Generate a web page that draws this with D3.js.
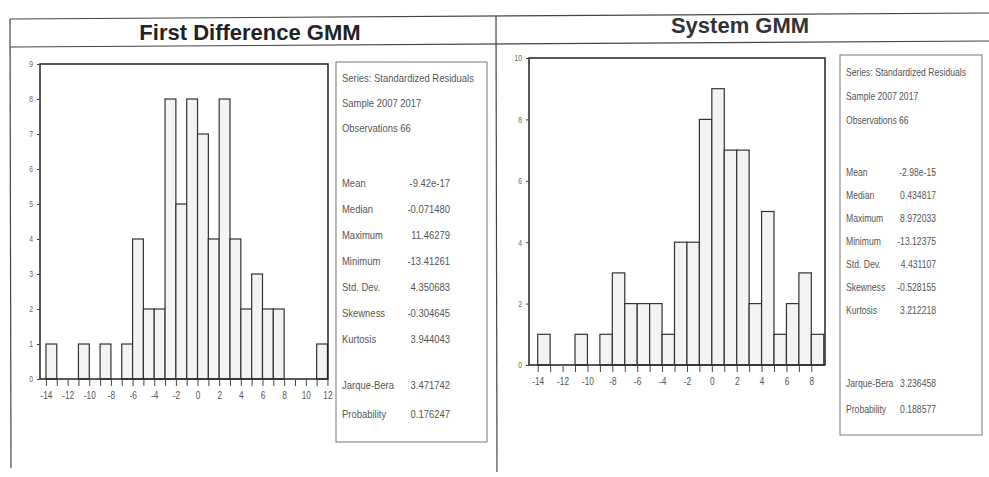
<!DOCTYPE html>
<html><head><meta charset="utf-8">
<script src="https://cdn.jsdelivr.net/npm/d3@7/dist/d3.min.js"></script>
<style>
body{margin:0;background:#fff}
.small{font-family:"Liberation Sans",Arial,sans-serif;fill:#555}
</style>
</head><body>
<svg id="c" width="989" height="477"></svg>
<script>
// ---- data ----
const titles = ["First Difference GMM", "System GMM"];
const fdBinStarts = [-14,-13,-12,-11,-10,-9,-8,-7,-6,-5,-4,-3,-2,-1,0,1,2,3,4,5,6,7,8,9,10,11];
const fdCounts    = [  1,  0,  0,  1,  0, 1, 0, 1, 4, 2, 2, 8, 5, 8,7,4,8,4,2,3,2,2,0,0,0,1];
const sysBinStarts = [-14,-13,-12,-11,-10,-9,-8,-7,-6,-5,-4,-3,-2,-1,0,1,2,3,4,5,6,7,8];
const sysCounts    = [  1,  0,  0,  1,  0, 1, 3, 2, 2, 2, 1, 4, 4, 8,9,7,7,2,5,1,2,3,1];
const fdXTicks = [-14,-12,-10,-8,-6,-4,-2,0,2,4,6,8,10,12];
const sysXTicks = [-14,-12,-10,-8,-6,-4,-2,0,2,4,6,8];
const fdYTicks = [0,1,2,3,4,5,6,7,8,9];
const sysYTicks = [0,2,4,6,8,10];
const headerLines = ["Series: Standardized Residuals", "Sample 2007 2017", "Observations 66"];
const statLabels = ["Mean","Median","Maximum","Minimum","Std. Dev.","Skewness","Kurtosis"];
const testLabels = ["Jarque-Bera","Probability"];
const fdStats  = ["-9.42e-17","-0.071480","11.46279","-13.41261","4.350683","-0.304645","3.944043"];
const fdTests  = ["3.471742","0.176247"];
const sysStats = ["-2.98e-15","0.434817","8.972033","-13.12375","4.431107","-0.528155","3.212218"];
const sysTests = ["3.236458","0.188577"];

const svg = d3.select("#c");
const g = svg.append("g");

// squeeze axis text horizontally to mimic a condensed face
function condense(sel, f){
  sel.each(function(){
    const w = this.getComputedTextLength();
    if (w > 0) d3.select(this).attr("textLength", w*f).attr("lengthAdjust","spacingAndGlyphs");
  });
}
// condensed text placed with a transform (keeps the real box right)
function ctext(parent, x, y, str, fs, f, anchor){
  return parent.append("text").attr("class","small").attr("font-size",fs)
    .attr("text-anchor", anchor || "start")
    .attr("transform", `translate(${x},${y}) scale(${f},1)`).text(str);
}

// page frame lines
const lineStyle = s => s.attr("stroke","#444").attr("stroke-width",1.2);
g.append("line").attr("x1",10).attr("y1",19).attr("x2",989).attr("y2",13).call(lineStyle);
g.append("line").attr("x1",10).attr("y1",47).attr("x2",989).attr("y2",41).call(lineStyle);
g.append("line").attr("x1",10).attr("y1",19).attr("x2",11).attr("y2",468).call(lineStyle);
g.append("line").attr("x1",496).attr("y1",16).attr("x2",497).attr("y2",472).call(lineStyle);

g.append("text").attr("x",250).attr("y",40).attr("text-anchor","middle")
  .attr("font-family","Liberation Sans, Arial, sans-serif").attr("font-weight","bold")
  .attr("font-size",22).attr("fill","#222").text(titles[0]);
g.append("text").attr("x",740).attr("y",33).attr("text-anchor","middle")
  .attr("font-family","Liberation Sans, Arial, sans-serif").attr("font-weight","bold")
  .attr("font-size",22).attr("fill","#333").text(titles[1]);

function drawHist(cfg){
  const xs = d3.scaleLinear().domain(cfg.xDomain).range([cfg.x0, cfg.x1]);
  const ys = d3.scaleLinear().domain([0, cfg.yMax]).range([cfg.yb, cfg.yt]);
  const hg = g.append("g");
  const data = cfg.starts.map((s,i)=>({s, c: cfg.counts[i]})).filter(d=>d.c>0);
  hg.selectAll("rect.bar").data(data).join("rect").attr("class","bar")
    .attr("x", d=>xs(d.s)).attr("width", d=>xs(d.s+1)-xs(d.s))
    .attr("y", d=>ys(d.c)).attr("height", d=>ys(0)-ys(d.c))
    .attr("fill","#f3f3f3").attr("stroke","#333").attr("stroke-width",1.2);
  hg.append("rect").attr("x",cfg.x0).attr("y",cfg.yt).attr("width",cfg.x1-cfg.x0).attr("height",cfg.yb-cfg.yt)
    .attr("fill","none").attr("stroke","#222").attr("stroke-width",1.5);
  const minorTicks = d3.range(cfg.xTicks[0], cfg.xTicks[cfg.xTicks.length-1]+1);
  const xa = hg.append("g").attr("transform",`translate(0,${cfg.yb})`)
    .call(d3.axisBottom(xs).tickValues(minorTicks).tickSize(7).tickPadding(5)
      .tickFormat(d => cfg.xTicks.includes(d) ? String(d) : ""));
  xa.select(".domain").remove();
  xa.selectAll("line").attr("stroke","#444");
  xa.selectAll("text").attr("class","small").attr("font-family",null).attr("font-size",11).style("fill","#555")
    .call(condense, 0.75);
  const ya = hg.append("g").attr("transform",`translate(${cfg.x0},0)`)
    .call(d3.axisLeft(ys).tickValues(cfg.yTicks).tickSize(3).tickPadding(4).tickFormat(d=>String(d)));
  ya.select(".domain").remove();
  ya.selectAll("line").attr("stroke","#444");
  ya.selectAll("text").attr("class","small").attr("font-family",null).attr("font-size",9).style("fill","#666")
    .call(condense, 0.75);
}

function drawStats(cfg){
  const sg = g.append("g");
  sg.append("rect").attr("x",cfg.x).attr("y",cfg.y).attr("width",cfg.w).attr("height",cfg.h)
    .attr("fill","#fff").attr("stroke","#777").attr("stroke-width",1);
  headerLines.forEach((t,i)=> ctext(sg, cfg.x+6, cfg.headY[i], t, cfg.fs, cfg.cf));
  statLabels.forEach((t,i)=>{
    const y = cfg.statY0 + i*cfg.dy;
    ctext(sg, cfg.x+6, y, t, cfg.fs, cfg.cf);
    ctext(sg, cfg.valX, y, cfg.stats[i], cfg.fs, cfg.cf, "end");
  });
  testLabels.forEach((t,i)=>{
    const y = cfg.testY[i];
    ctext(sg, cfg.x+6, y, t, cfg.fs, cfg.cf);
    ctext(sg, cfg.valX, y, cfg.tests[i], cfg.fs, cfg.cf, "end");
  });
}

drawHist({starts: fdBinStarts, counts: fdCounts, xDomain: [-14.55, 12.05], x0: 40, x1: 328,
  yb: 379, yt: 64, yMax: 9, xTicks: fdXTicks, yTicks: fdYTicks});
drawHist({starts: sysBinStarts, counts: sysCounts, xDomain: [-14.7, 9.1], x0: 529, x1: 825,
  yb: 365, yt: 58, yMax: 10, xTicks: sysXTicks, yTicks: sysYTicks});

drawStats({x: 336, y: 62, w: 151, h: 380, fs: 11, cf: 0.86, valX: 450,
  headY: [82, 107, 132], statY0: 187, dy: 26, testY: [389, 418],
  stats: fdStats, tests: fdTests});
drawStats({x: 840, y: 55, w: 142, h: 380, fs: 10.5, cf: 0.82, valX: 936,
  headY: [76, 100, 124], statY0: 176, dy: 23, testY: [387, 413],
  stats: sysStats, tests: sysTests});
</script>
</body></html>
